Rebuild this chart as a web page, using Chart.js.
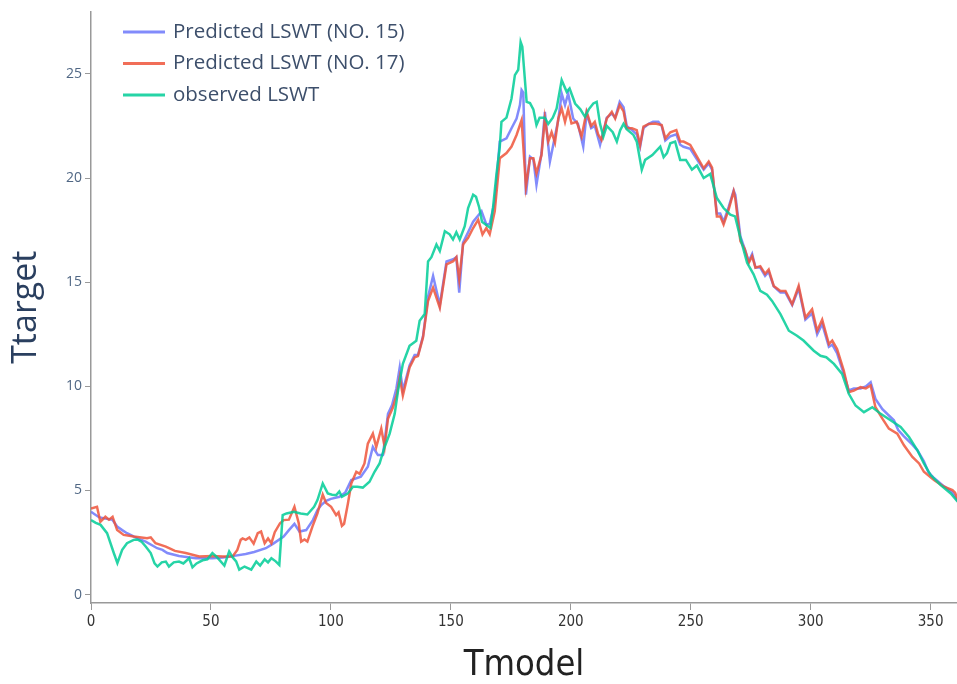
<!DOCTYPE html>
<html>
<head>
<meta charset="utf-8">
<script src="https://cdn.jsdelivr.net/npm/chart.js@4.4.0/dist/chart.umd.min.js"></script>
<style>
  html, body { margin: 0; padding: 0; background: #fff; }
  canvas { display: block; }
</style>
</head>
<body>
<canvas id="lswt-chart" width="957" height="684"></canvas>
<script>
// day of year (x) and temperature (y)
var obsX = [0, 2, 4, 6.7, 9.5, 11, 13, 15, 17.8, 19.3, 21, 22.8, 24.9, 26.5, 27.7, 29.5, 31.2, 32.5, 34.5, 36.7,
    38.5, 40.9, 42.3, 44, 46.5, 48.5, 50.6, 52.5, 55.6, 57.6, 59, 60.5, 61.8, 64, 66.8, 68.9, 70.5, 72.4, 73.8, 75.2,
    77, 78.5, 79.9, 81.5, 84.6, 87.4, 90.2, 93, 94.4, 96.6, 98.7, 100.5, 102.2, 103.5, 104.6, 107, 109.2, 111, 113.3, 116.1,
    118.2, 120.3, 122.4, 124.5, 126.6, 128, 130, 132.8, 135.6, 137, 139.1, 140.5, 141.9, 144, 145.4, 147.5, 149.5, 150.9, 152.3, 153.7,
    155.8, 157.2, 159.3, 160.5, 161.8, 163, 165.5, 166.5, 167.6, 169, 170.4, 171.1, 173.2, 175.3, 176.7, 178.1, 179.1, 179.8, 181.6, 183,
    184.4, 185.7, 187, 189.2, 190.6, 192.5, 194.1, 196.2, 198.3, 199.5, 201.8, 204, 205.9, 207.5, 209.4, 210.8, 212.2, 213.6, 215, 217.5,
    219.2, 220.6, 222, 223.3, 226.1, 227.5, 229.6, 231, 234, 237.3, 238.7, 240.1, 241.5, 243.5, 245.6, 248, 250.5, 252.6, 255.4, 258.1,
    260.9, 263.7, 266.5, 268.5, 270.7, 273.5, 276.2, 279, 281.8, 283.9, 287.4, 290.9, 294.3, 297, 301.3, 304.1, 306.5, 309.7, 313.1, 315.9,
    318.7, 322.2, 325.7, 329.2, 333.3, 337.5, 341, 344.5, 347.2, 350, 354.2, 358.4, 361.3];
var obsY = [3.58, 3.45, 3.35, 2.95, 2.0, 1.52, 2.15, 2.47, 2.63, 2.65, 2.55, 2.31, 2.0, 1.5, 1.35, 1.55, 1.59, 1.35, 1.55, 1.59,
    1.5, 1.75, 1.31, 1.5, 1.65, 1.7, 2.0, 1.8, 1.4, 2.07, 1.8, 1.6, 1.2, 1.35, 1.2, 1.59, 1.4, 1.7, 1.55, 1.75,
    1.6, 1.43, 3.82, 3.9, 3.98, 3.9, 3.85, 4.22, 4.54, 5.34, 4.86, 4.8, 4.78, 4.95, 4.7, 4.85, 5.18, 5.18, 5.14, 5.42,
    5.9, 6.3, 7.09, 7.73, 8.68, 9.8, 11.08, 11.95, 12.19, 13.15, 13.47, 16.0, 16.2, 16.81, 16.5, 17.45, 17.3, 17.05, 17.4, 17.05,
    17.69, 18.56, 19.2, 19.1, 18.6, 17.9, 17.69, 17.61, 18.6, 20.16, 21.5, 22.7, 22.9, 23.82, 24.94, 25.2, 26.53, 26.3, 23.66, 23.6,
    23.3, 22.55, 22.9, 22.9, 22.6, 22.9, 23.34, 24.7, 24.14, 24.3, 23.58, 23.3, 22.94, 23.3, 23.58, 23.66, 22.6, 21.99, 22.5, 22.2,
    21.75, 22.3, 22.6, 22.35, 22.07, 21.75, 20.4, 20.87, 21.1, 21.51, 21.0, 21.2, 21.67, 21.75, 20.87, 20.87, 20.4, 20.6, 20.0, 20.2,
    19.04, 18.56, 18.24, 18.16, 17.13, 15.93, 15.38, 14.58, 14.4, 14.1, 13.47, 12.67, 12.43, 12.2, 11.71, 11.47, 11.4, 11.08, 10.6, 9.64,
    9.08, 8.76, 9.0, 8.68, 8.37, 8.05, 7.57, 6.93, 6.3, 5.74, 5.26, 4.86, 4.46];

var no17X = [0, 2.5, 3.9, 6, 7.5, 9, 10.9, 13.6, 17.8, 23.4, 24.9, 26.9, 31.2, 35, 39.5, 45.1, 50.6, 55, 59, 61,
    62.4, 63.2, 64.5, 66, 67.8, 69.5, 70.9, 72.4, 73.8, 75.2, 76.6, 78.8, 80.3, 82.5, 84.8, 86.6, 87.6, 89, 90.2, 92.3,
    94.4, 96.6, 98, 100.1, 102.2, 103.2, 104.6, 105.5, 107.1, 108.5, 110.6, 112, 114, 115.4, 117.5, 118.9, 121, 122.4, 123.8, 125.9,
    127.5, 128.7, 130, 132.8, 134.9, 136.3, 138.4, 140.5, 142.6, 145.4, 148.2, 151, 152.3, 153.5, 155.1, 157.2, 159.3, 161.4, 163.2, 164.8,
    166.2, 168.3, 170.4, 173.2, 175.3, 177.4, 179.5, 181.3, 183, 184.4, 185.7, 187.8, 189.2, 190.6, 192, 193.4, 194.8, 196.2, 197.6, 198.9,
    200.3, 202.5, 204.5, 206.6, 208.5, 210, 211.4, 212.8, 215, 217.1, 218.5, 220.4, 222, 223.3, 225.5, 227.5, 228.9, 230.3, 232.5, 235.2,
    237.9, 239.4, 241.5, 244, 245.6, 247, 249.8, 252.6, 255.4, 257.5, 258.9, 260.9, 262.3, 263.7, 265.8, 267.9, 268.6, 270.7, 272.5, 274.2,
    275.6, 277, 279, 281, 282.5, 284.6, 287.4, 289.5, 292.3, 295, 297.8, 300.6, 302.7, 304.8, 307.6, 309, 311, 313.8, 315.9, 318,
    320.8, 323, 325, 327, 329.9, 332.6, 336.1, 338.9, 342.4, 345.2, 347.2, 351.4, 355.6, 359.1, 360.2, 361.3];
var no17Y = [4.14, 4.22, 3.5, 3.74, 3.6, 3.74, 3.1, 2.87, 2.79, 2.71, 2.75, 2.47, 2.31, 2.1, 2.0, 1.83, 1.86, 1.83, 1.83, 2.15,
    2.63, 2.7, 2.63, 2.75, 2.45, 2.95, 3.03, 2.47, 2.7, 2.47, 3.0, 3.43, 3.58, 3.6, 4.22, 3.43, 2.55, 2.65, 2.55, 3.27,
    3.9, 4.8, 4.4, 4.22, 3.82, 3.95, 3.3, 3.4, 4.38, 5.34, 5.9, 5.8, 6.3, 7.25, 7.73, 7.09, 7.97, 7.09, 8.45, 9.0,
    9.6, 10.43, 9.56, 10.91, 11.39, 11.45, 12.35, 14.1, 14.74, 13.78, 15.86, 16.01, 16.2, 15.14, 16.81, 17.13, 17.6, 18.0, 17.29, 17.6,
    17.3, 18.4, 20.95, 21.2, 21.51, 22.07, 22.78, 19.6, 20.95, 20.95, 20.23, 21.11, 22.86, 21.75, 22.2, 21.7, 22.86, 23.34, 22.7, 23.3,
    22.62, 22.7, 21.99, 23.18, 22.5, 22.7, 22.1, 21.83, 22.86, 23.18, 22.86, 23.5, 23.2, 22.39, 22.39, 22.3, 21.59, 22.47, 22.6, 22.62,
    22.55, 21.91, 22.2, 22.3, 21.75, 21.75, 21.59, 21.03, 20.47, 20.79, 20.5, 18.16, 18.16, 17.77, 18.48, 19.36, 19.0, 16.97, 16.6, 15.93,
    16.25, 15.7, 15.77, 15.4, 15.61, 14.82, 14.58, 14.58, 13.94, 14.82, 13.3, 13.7, 12.67, 13.2, 12.03, 12.2, 11.79, 10.76, 9.72, 9.8,
    9.96, 9.9, 10.04, 9.0, 8.45, 7.97, 7.73, 7.17, 6.61, 6.3, 5.9, 5.5, 5.18, 5.02, 4.9, 4.54];

var no15X = [0, 3.3, 6, 8.9, 10.9, 13, 15, 19.2, 22.8, 27.6, 29.8, 31.8, 36.7, 43.7, 50.6, 55, 59, 64.5, 68, 72.9,
    76, 80.3, 82.5, 84.8, 86.9, 89.7, 92.5, 94.4, 96, 98, 100, 103.6, 106, 108.5, 112.5, 115.4, 117.5, 119.6, 121.7, 123.8,
    125.5, 127.3, 128.7, 130, 132.8, 134.9, 136.3, 138.4, 140.5, 142.6, 145.4, 148.2, 151, 152.3, 153.5, 155.1, 157.2, 159.3, 161.4, 162.8,
    164.8, 166.2, 168.3, 170.4, 173.2, 175.3, 177.4, 178.8, 179.5, 180.2, 181.3, 183, 184.4, 185.7, 187.8, 189.2, 191.3, 192.7, 194.8, 196.2,
    197.6, 198.9, 201, 203, 205.2, 206.6, 208.5, 210, 212.2, 215, 217.1, 218.5, 220.4, 222, 223.3, 225.5, 227.5, 228.9, 230.3, 232.5,
    234.3, 236.5, 237.9, 239.4, 241.5, 244, 245.6, 247, 249.8, 252.6, 255.4, 257.5, 258.9, 260.9, 262.3, 263.7, 265.8, 267.9, 268.6, 270.7,
    272.5, 274.2, 275.6, 277, 279, 281, 282.5, 284.6, 287.4, 289.5, 292.3, 295, 297.8, 300.6, 302.7, 304.8, 307.6, 309, 311, 313.8,
    315.9, 318, 320.8, 323, 325, 327, 329.9, 332.6, 334.7, 336.5, 338.9, 342.4, 344.5, 347.2, 349, 351.4, 355.6, 359.1, 361.3];
var no15Y = [3.98, 3.72, 3.65, 3.6, 3.27, 3.1, 2.95, 2.71, 2.55, 2.23, 2.15, 2.0, 1.86, 1.75, 1.75, 1.78, 1.85, 1.95, 2.05, 2.23,
    2.45, 2.79, 3.1, 3.4, 3.03, 3.1, 3.58, 4.06, 4.3, 4.5, 4.6, 4.7, 4.9, 5.5, 5.66, 6.14, 7.09, 6.7, 6.7, 8.68,
    9.1, 9.9, 10.91, 9.8, 11.0, 11.5, 11.5, 12.4, 14.3, 15.3, 13.9, 16.0, 16.1, 16.2, 14.5, 16.9, 17.4, 17.9, 18.2, 18.4,
    17.77, 17.8, 18.88, 21.75, 21.91, 22.39, 22.86, 23.5, 24.22, 24.1, 19.2, 21.03, 20.9, 19.68, 21.2, 23.18, 20.79, 21.6, 22.8, 24.06,
    23.5, 24.06, 22.86, 22.6, 21.51, 23.1, 22.4, 22.5, 21.59, 22.9, 23.1, 22.9, 23.66, 23.4, 22.5, 22.3, 22.1, 21.5, 22.4, 22.6,
    22.7, 22.7, 22.5, 21.8, 22.0, 22.1, 21.6, 21.5, 21.4, 20.9, 20.4, 20.7, 20.4, 18.3, 18.3, 17.9, 18.6, 19.4, 19.2, 17.2,
    16.6, 16.0, 16.35, 15.7, 15.7, 15.3, 15.5, 14.8, 14.5, 14.5, 13.9, 14.7, 13.2, 13.5, 12.5, 13.0, 11.9, 12.0, 11.6, 10.6,
    9.8, 9.9, 9.9, 10.0, 10.2, 9.4, 8.9, 8.6, 8.37, 7.9, 7.6, 7.2, 6.93, 6.4, 5.9, 5.6, 5.2, 4.9, 4.5];

var seriesNames = ['Predicted LSWT (NO. 15)', 'Predicted LSWT (NO. 17)', 'observed LSWT'];
var seriesColors = ['rgba(99,110,250,0.8)', 'rgba(239,85,59,0.85)', 'rgba(0,204,150,0.85)'];

function toPoints(xs, ys) {
    return xs.map(function(x, i) { return {x: x, y: ys[i]}; });
}

// legend drawn inside the plot, top left, one entry per row
const insideLegend = {
    id: 'insideLegend',
    afterDraw(chart) {
        var ctx = chart.ctx;
        ctx.save();
        chart.data.datasets.forEach(function(ds, i) {
            var y = 32 + i * 31.5;
            ctx.strokeStyle = ds.borderColor;
            ctx.lineWidth = 3;
            ctx.beginPath();
            ctx.moveTo(123, y);
            ctx.lineTo(165, y);
            ctx.stroke();
            ctx.fillStyle = '#3d4f6b';
            ctx.font = '20.5px "Open Sans"';
            ctx.textBaseline = 'middle';
            ctx.fillText(ds.label, 173, y);
        });
        ctx.restore();
    }
};

var lineDefaults = {borderWidth: 2.5, pointRadius: 0, tension: 0, fill: false};

new Chart(document.getElementById('lswt-chart'), {
    type: 'line',
    data: {
        datasets: [
            Object.assign({label: seriesNames[0], data: toPoints(no15X, no15Y), borderColor: seriesColors[0], order: 2}, lineDefaults),
            Object.assign({label: seriesNames[1], data: toPoints(no17X, no17Y), borderColor: seriesColors[1], order: 1}, lineDefaults),
            Object.assign({label: seriesNames[2], data: toPoints(obsX, obsY), borderColor: seriesColors[2], order: 0}, lineDefaults)
        ]
    },
    options: {
        responsive: false,
        animation: false,
        devicePixelRatio: 1,
        layout: {padding: {top: 10, right: 0, bottom: 0, left: 0}},
        plugins: {legend: {display: false}, tooltip: {enabled: false}},
        scales: {
            x: {
                type: 'linear',
                min: 0,
                max: 361,
                afterFit: function(s) { s.height = 81; },
                border: {display: true, color: '#999', width: 1.5},
                grid: {display: true, drawOnChartArea: false, drawTicks: true, tickLength: 7, color: '#999'},
                ticks: {stepSize: 50, includeBounds: false, maxRotation: 0, color: '#333', padding: 3,
                        font: {family: '"Liberation Sans Narrow", "DejaVu Sans Condensed", sans-serif', size: 15}},
                title: {display: true, text: 'Tmodel', color: '#222', padding: {top: 0, bottom: 0},
                        font: {family: '"Liberation Sans Narrow", "DejaVu Sans Condensed", sans-serif', size: 36, lineHeight: 1}}
            },
            y: {
                min: -0.4,
                max: 28,
                afterFit: function(s) { s.width = 91; },
                border: {display: true, color: '#999', width: 1.5},
                grid: {display: true, drawOnChartArea: false, drawTicks: true, tickLength: 6, color: '#999'},
                ticks: {stepSize: 5, includeBounds: false, color: '#506784', padding: 3,
                        font: {family: '"Open Sans", sans-serif', size: 14}},
                title: {display: true, text: 'Ttarget', color: '#2a3f5f', padding: {top: 6, bottom: 0},
                        font: {family: '"Open Sans", sans-serif', size: 34}}
            }
        }
    },
    plugins: [insideLegend]
});
</script>
</body>
</html>
